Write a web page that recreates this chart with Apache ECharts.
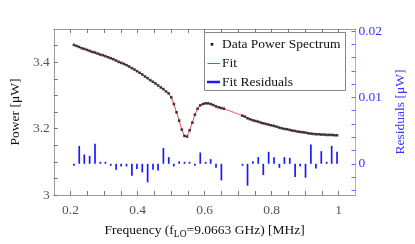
<!DOCTYPE html>
<html>
<head>
<meta charset="utf-8">
<script src="https://cdn.jsdelivr.net/npm/echarts@6/dist/echarts.min.js"></script>
<style>html,body{margin:0;padding:0;background:#fff}#c{width:415px;height:244px}</style>
</head>
<body>
<div id="c"></div>
<script>
// ---- data ----
const freq = [0.2100,0.2179,0.2257,0.2336,0.2414,0.2493,0.2571,0.2650,0.2728,0.2807,
0.2885,0.2964,0.3042,0.3121,0.3199,0.3278,0.3356,0.3435,0.3513,0.3592,
0.3670,0.3749,0.3827,0.3906,0.3984,0.4063,0.4141,0.4220,0.4298,0.4377,
0.4455,0.4534,0.4612,0.4691,0.4769,0.4848,0.4926,0.5005,0.5083,0.5162,
0.5240,0.5319,0.5397,0.5476,0.5554,0.5633,0.5711,0.5790,0.5868,0.5947,
0.6025,0.6104,0.6182,0.6261,0.6339,0.6418,0.6496,0.6575,
0.7124,0.7203,0.7281,0.7360,0.7438,0.7517,0.7595,0.7674,0.7752,0.7831,
0.7909,0.7988,0.8066,0.8145,0.8223,0.8302,0.8380,0.8459,0.8537,0.8616,
0.8694,0.8773,0.8851,0.8930,0.9008,0.9087,0.9165,0.9244,0.9322,0.9401,
0.9479,0.9558,0.9636,0.9715,0.9793,0.9872,0.9950];
const power = [3.452,3.449,3.446,3.442,3.440,3.437,3.434,3.431,3.429,3.426,
3.423,3.421,3.418,3.415,3.412,3.409,3.405,3.401,3.398,3.395,
3.391,3.387,3.382,3.378,3.373,3.368,3.363,3.357,3.352,3.346,
3.341,3.336,3.330,3.324,3.319,3.312,3.306,3.294,3.274,3.249,
3.224,3.197,3.178,3.176,3.195,3.218,3.242,3.260,3.270,3.274,
3.276,3.276,3.274,3.271,3.267,3.264,3.262,3.260,
3.239,3.236,3.231,3.228,3.225,3.223,3.221,3.218,3.216,3.214,
3.212,3.210,3.208,3.206,3.203,3.201,3.199,3.198,3.196,3.194,
3.193,3.191,3.190,3.189,3.188,3.186,3.185,3.184,3.183,3.183,
3.182,3.182,3.181,3.181,3.181,3.180,3.180];
// fit curve where no data points are shown
const gapFreq = [0.6654,0.6732,0.6811,0.6889,0.6968,0.7046];
const gapFit  = [3.257,3.254,3.251,3.248,3.245,3.242];
const resFreq = [0.210,0.226,0.241,0.257,0.273,0.289,0.304,0.320,0.336,0.351,0.367,0.383,0.398,0.414,0.430,0.446,0.461,0.477,0.493,0.508,0.524,0.540,0.555,0.571,0.587,0.603,0.618,0.634,0.650,
0.713,0.728,0.744,0.760,0.775,0.791,0.807,0.823,0.838,0.854,0.870,0.885,0.901,0.917,0.932,0.948,0.964,0.979,0.995];
const resVal = [-0.0003,0.0027,0.0014,0.0012,0.0030,0.0002,0.0001,-0.0002,-0.0009,-0.0004,-0.0004,-0.0018,-0.0008,-0.0013,-0.0028,-0.0009,-0.0010,0.0024,0.0010,-0.0004,0.0004,0.0001,0.0001,-0.0003,0.0017,0.0002,0.0007,-0.0006,-0.0025,
-0.0002,-0.0033,0.0004,0.0010,-0.0017,0.0018,0.0010,-0.0006,0.0010,0.0009,-0.0020,-0.0004,-0.0021,0.0029,-0.0007,0.0019,0.0003,0.0027,0.0018];
const xTicks = [0.2,0.25,0.3,0.35,0.4,0.45,0.5,0.55,0.6,0.65,0.7,0.75,0.8,0.85,0.9,0.95,1.0];
const xLabels = [0.2,0.4,0.6,0.8,1];
const yTicks = [3,3.05,3.1,3.15,3.2,3.25,3.3,3.35,3.4,3.45];
const yLabels = [3,3.2,3.4];
const rTicks = [-0.004,-0.002,0,0.002,0.004,0.006,0.008,0.01,0.012,0.014,0.016,0.018,0.02];
const rLabels = [0,0.01,0.02];

const F = '"Liberation Serif","DejaVu Serif",serif';
const dataPts = freq.map((f,i)=>[f,power[i]]);
const fitPts = dataPts.concat(gapFreq.map((f,i)=>[f,gapFit[i]])).sort((a,b)=>a[0]-b[0]);
const resPts = resFreq.map((f,i)=>[f,resVal[i]]);

const chart = echarts.init(document.getElementById('c'), null, {renderer:'canvas'});
const grayLine = {color:'#999', width:1};
chart.setOption({
  animation:false,
  backgroundColor:'#fff',
  grid:{left:46, top:29, right:53, bottom:49, containLabel:false},
  xAxis:[{
    type:'value', min:0.15, max:1.05, position:'bottom',
    axisLine:{show:true, onZero:false, lineStyle:grayLine},
    axisTick:{show:true, inside:true, length:4, lineStyle:{color:'#777'}, customValues:xTicks},
    axisLabel:{customValues:xLabels, color:'#555', fontFamily:F, fontSize:13.5, margin:8},
    splitLine:{show:false},
    name:'Frequency (f{sub|LO}=9.0663 GHz) [MHz]', nameLocation:'middle', nameGap:27,
    nameTextStyle:{color:'#111', fontFamily:F, fontSize:13.5,
      rich:{sub:{fontFamily:F, fontSize:9.5, color:'#111', padding:[7,0,0,0]}}}
  },{
    type:'value', min:0.15, max:1.05, position:'top',
    axisLine:{show:true, onZero:false, lineStyle:grayLine},
    axisTick:{show:true, inside:true, length:4, lineStyle:{color:'#777'}, customValues:xTicks},
    axisLabel:{show:false}, splitLine:{show:false}
  }],
  yAxis:[{
    type:'value', min:3, max:3.5, position:'left',
    axisLine:{show:true, onZero:false, lineStyle:grayLine},
    axisTick:{show:true, inside:true, length:4, lineStyle:{color:'#777'}, customValues:yTicks},
    axisLabel:{customValues:yLabels, color:'#555', fontFamily:F, fontSize:13.5, margin:4},
    splitLine:{show:false},
    name:'Power [μW]', nameLocation:'middle', nameGap:27, nameRotate:90,
    nameTextStyle:{color:'#111', fontFamily:F, fontSize:13.5}
  },{
    type:'value', min:-0.0047, max:0.0203, position:'right',
    axisLine:{show:true, onZero:false, lineStyle:{color:'#aaaaff', width:1}},
    axisTick:{show:true, inside:true, length:4, lineStyle:{color:'#6666ff'}, customValues:rTicks},
    axisLabel:{customValues:rLabels, color:'#3535ff', fontFamily:F, fontSize:13.5, margin:3},
    splitLine:{show:false},
    name:'Residuals [μW]', nameLocation:'middle', nameGap:37, nameRotate:90,
    nameTextStyle:{color:'#3535ff', fontFamily:F, fontSize:13.5}
  }],
  series:[{
    name:'Fit', type:'line', xAxisIndex:0, yAxisIndex:0, data:fitPts,
    showSymbol:false, lineStyle:{color:'#ff4a4a', width:1}, z:2, silent:true
  },{
    name:'Data Power Spectrum', type:'scatter', xAxisIndex:0, yAxisIndex:0, data:dataPts,
    symbol:'rect', symbolSize:2.6, itemStyle:{color:'#151515'}, z:3, silent:true
  },{
    name:'Fit Residuals', type:'bar', xAxisIndex:0, yAxisIndex:1, data:resPts,
    barWidth:1.7, barMinHeight:2, itemStyle:{color:'#1a1aff'}, z:2, silent:true
  }],
  graphic:[
    {type:'rect', shape:{x:204.5, y:32.5, width:141, height:58}, style:{fill:'#fff', stroke:'#888', lineWidth:1}, z:10},
    {type:'rect', shape:{x:210.7, y:43, width:2.6, height:2.6}, style:{fill:'#151515'}, z:11},
    {type:'line', shape:{x1:207.5, y1:63.5, x2:220, y2:63.5}, style:{stroke:'#ff3030', lineWidth:1}, z:11},
    {type:'line', shape:{x1:207, y1:82, x2:220, y2:82}, style:{stroke:'#1a1aff', lineWidth:2.5}, z:11},
    {type:'text', x:222, y:44.5, style:{text:'Data Power Spectrum', font:'13.5px '+F, fill:'#111', verticalAlign:'middle'}, z:11},
    {type:'text', x:222, y:63.5, style:{text:'Fit', font:'13.5px '+F, fill:'#111', verticalAlign:'middle'}, z:11},
    {type:'text', x:222, y:82, style:{text:'Fit Residuals', font:'13.5px '+F, fill:'#111', verticalAlign:'middle'}, z:11}
  ]
});
</script>
</body>
</html>
